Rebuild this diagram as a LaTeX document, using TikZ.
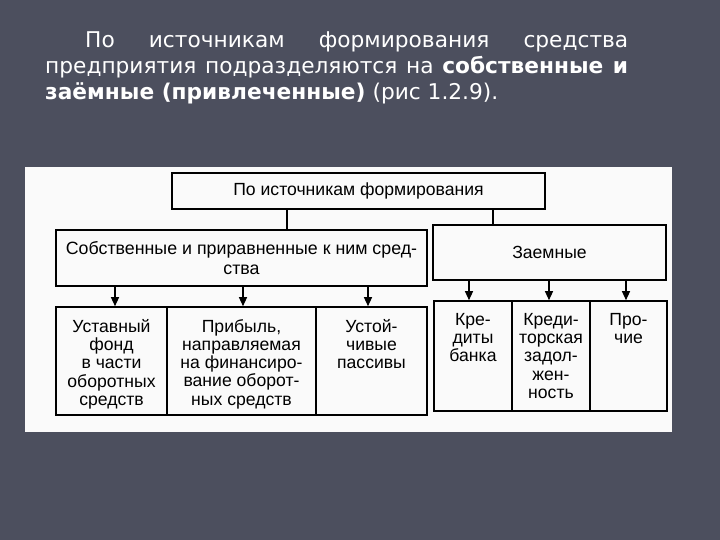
\documentclass[tikz,border=0pt]{standalone}
\usepackage{fontspec}
\setmainfont{Liberation Sans}
\newfontfamily\headfont{DejaVu Sans}
\usetikzlibrary{arrows.meta}
\definecolor{bgcol}{RGB}{76,79,94}
\definecolor{panelcol}{RGB}{250,250,250}
\tikzset{
  box/.style={draw=black, line width=1.6pt, inner sep=0pt},
  lbl/.style={font=\fontsize{17.6}{18.2}\selectfont, align=center, inner sep=0pt, anchor=north},
  arr/.style={line width=1.3pt, -{Triangle[length=9pt,width=8pt]}},
  conn/.style={line width=1.3pt}
}
\begin{document}
\begin{tikzpicture}[x=1pt,y=-1pt]
\fill[bgcol] (0,0) rectangle (720,540);
\useasboundingbox (0,0) rectangle (720,540);
% header text
\node[anchor=north west, inner sep=0pt, text width=583pt, align=justify, text=white,
      font=\headfont\fontsize{21.7}{26.3}\selectfont] (head) at (45,31)
  {\hspace*{40pt}По источникам формирования средства\linebreak
   предприятия подразделяются на \textbf{собственные и}\linebreak
   \textbf{заёмные (привлеченные)} (рис 1.2.9).};
% panel
\fill[panelcol] (25,167) rectangle (672,432);
% top level
\node[box, minimum width=373pt, minimum height=36pt, font=\fontsize{17.6}{20}\selectfont] (top) at (358.5,191) {По источникам формирования};
\node[box, minimum width=371pt, minimum height=56pt, align=center, font=\fontsize{17.8}{19.5}\selectfont] (own) at (241.5,258) {Собственные и приравненные к ним сред-\\ства};
\node[box, minimum width=233pt, minimum height=55pt, font=\fontsize{17.6}{20}\selectfont] (loan) at (549.5,252.5) {Заемные};
\coordinate (ca) at (287,0);
\coordinate (cb) at (493,0);
\draw[conn] (top.south -| ca) -- (own.north -| ca);
\draw[conn] (top.south -| cb) -- (loan.north -| cb);
% bottom boxes
\node[box, minimum width=111pt, minimum height=108pt] (b1) at (111.5,361) {};
\node[box, minimum width=149pt, minimum height=108pt] (b2) at (241.5,361) {};
\node[box, minimum width=111pt, minimum height=108pt] (b3) at (371.5,361) {};
\node[box, minimum width=78pt, minimum height=110pt] (b4) at (473,356) {};
\node[box, minimum width=78pt, minimum height=110pt] (b5) at (551,356) {};
\node[box, minimum width=77pt, minimum height=110pt] (b6) at (628.5,356) {};
\node[lbl] (t1) at ([yshift=-13pt]b1.north) {Уставный\\фонд\\в части\\оборотных\\средств};
\node[lbl] (t2) at ([yshift=-13pt]b2.north) {Прибыль,\\направляемая\\на финансиро-\\вание оборот-\\ных средств};
\node[lbl] (t3) at ([yshift=-13pt]b3.north) {Устой-\\чивые\\пассивы};
\node[lbl] (t4) at ([yshift=-13pt]b4.north) {Кре-\\диты\\банка};
\node[lbl] (t5) at ([yshift=-13pt]b5.north) {Креди-\\торская\\задол-\\жен-\\ность};
\node[lbl] (t6) at ([yshift=-13pt]b6.north) {Про-\\чие};
% arrows
\coordinate (x1) at (115,0);
\coordinate (x2) at (243,0);
\coordinate (x3) at (368,0);
\coordinate (x4) at (469,0);
\coordinate (x5) at (549,0);
\coordinate (x6) at (626,0);
\draw[arr] (own.south -| x1) -- (b1.north -| x1);
\draw[arr] (own.south -| x2) -- (b2.north -| x2);
\draw[arr] (own.south -| x3) -- (b3.north -| x3);
\draw[arr] (loan.south -| x4) -- (b4.north -| x4);
\draw[arr] (loan.south -| x5) -- (b5.north -| x5);
\draw[arr] (loan.south -| x6) -- (b6.north -| x6);
\end{tikzpicture}
\end{document}
